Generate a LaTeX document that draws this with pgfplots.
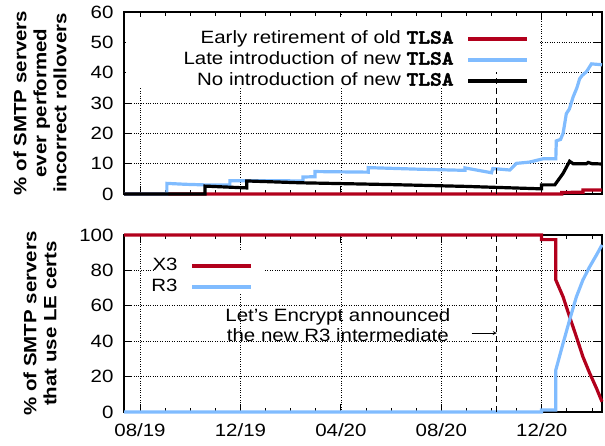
\documentclass[border=0pt]{standalone}
\usepackage{fontspec}
\setmainfont{Liberation Sans}[FakeStretch=1.15]
\newfontfamily\tlsafont{lmmonolt10-bold.otf}[FakeBold=2.5, FakeStretch=1.12]
\usepackage{pgfplots}
\pgfplotsset{compat=1.18}
\definecolor{cred}{RGB}{178,0,28}
\definecolor{cblue}{RGB}{128,188,255}
\newcommand{\tlsa}{{\tlsafont\fontsize{20bp}{20bp}\selectfont TLSA}}
\newcommand{\fs}{\fontsize{17.8bp}{20bp}\selectfont}
\begin{document}
\begin{tikzpicture}
\useasboundingbox (0bp,0bp) rectangle (605bp,446bp);
\pgfplotsset{
  every axis/.append style={
   scale only axis, width=478bp, xmin=-0.637, xmax=18.4,
   axis line style={line width=1.4bp},
   tick align=inside, major tick length=8bp, minor tick length=4bp,
   tick style={black, line width=0.8bp},
   grid=major, grid style={dotted, black, line width=0.6bp},
   xtick={0,4,8,12,16}, minor xtick={1,2,3,5,6,7,9,10,11,13,14,15,17,18},
   font=\fs, tick label style={font=\fs}, /pgf/number format/assume math mode=true,
   clip=false,
   legend style={draw=none, fill=none, inner sep=0pt,
     nodes={inner sep=0pt, text height=13bp, text depth=4bp},
     row sep=4bp, column sep=13bp},
   legend plot pos=right, legend cell align=right,
   legend image code/.code={\draw[#1] (0bp,0bp) -- (59bp,0bp);},
   every axis y label/.style={at={(axis description cs:-0.1757,0.5)}, rotate=90, anchor=center, align=center, font=\fs\bfseries},
   yticklabel style={xshift=-7bp}, xticklabel style={yshift=-8bp},
  }
}
\begin{axis}[at={(124bp,252bp)}, anchor=south west, height=182bp,
  ymin=0, ymax=60, ytick={0,10,...,60}, xticklabels={},
  ylabel={\% of SMTP servers\\ever performed\\incorrect rollovers},
  legend style={at={(0.8473,0.899)}, anchor=north east}]
\fill[white] (axis cs:-0.55,34.9) rectangle (axis cs:15.92,58.4);
\addplot[cred, line width=3.2bp] coordinates {(-0.637,0)(16.8,0)(16.8,0.5)(17.64,0.6)(17.64,1.3)(18.40,1.3)};
\addlegendentry{Early retirement of old \tlsa}
\addplot[cblue, line width=3.2bp] coordinates {(-0.637,0)(1.07,0)(1.07,3.5)(1.8,3.2)(2.59,3.0)(3.58,3.0)(3.58,4.4)(5.0,4.4)(6.49,4.3)(6.49,5.6)(6.97,5.7)(6.97,7.4)(8.0,7.3)(9.09,7.2)(9.09,8.7)(11.0,8.2)(12.94,7.8)(12.94,8.6)(14.0,7.0)(14.05,8.4)(14.73,7.9)(14.99,10.1)(15.5,10.5)(16.05,11.6)(16.56,11.6)(16.58,17.5)(16.75,18)(16.85,20)(16.98,26.5)(17.1,28)(17.25,32)(17.4,35)(17.51,38)(17.6,39)(17.78,40.3)(17.98,42.9)(18.40,42.6)};
\addlegendentry{Late introduction of new \tlsa}
\addplot[black, line width=3.2bp] coordinates {(-0.637,0)(2.59,0)(2.59,2.6)(4.25,2.0)(4.25,4.3)(6.37,3.7)(10,3.1)(13,2.5)(15.99,1.7)(15.99,3.0)(16.52,3.0)(16.85,6.8)(17.11,10.8)(17.25,10.0)(17.78,10.0)(17.85,10.4)(18.0,10.0)(18.40,9.9)};
\addlegendentry{No introduction of new \tlsa}
\draw[black, line width=1bp, dash pattern=on 6bp off 4bp] (axis cs:14.21,0) -- (axis cs:14.21,40.2);
\end{axis}
\begin{axis}[at={(124bp,34bp)}, anchor=south west, height=177bp,
  ymin=0, ymax=100, ytick={0,20,...,100},
  xticklabels={08/19,12/19,04/20,08/20,12/20},
  ylabel={\% of SMTP servers\\that use LE certs},
  legend style={at={(0.2699,0.8737)}, anchor=north east}]
\fill[white] (axis cs:0.6,67.2) rectangle (axis cs:4.97,91.5);
\addplot[cred, line width=3.2bp] coordinates {(-0.637,100)(15.99,100)(15.99,97.4)(16.56,97.4)(16.56,74.6)(16.85,65.1)(17.11,53.8)(17.38,42.5)(17.64,31.2)(17.91,21.9)(18.18,13.4)(18.40,5.8)};
\addlegendentry{X3}
\addplot[cblue, line width=3.2bp] coordinates {(-0.637,0)(15.99,0)(15.99,1.1)(16.56,1.1)(16.56,23.7)(16.85,38.8)(17.11,52)(17.38,65.1)(17.64,74.6)(17.91,82.1)(18.18,88.7)(18.40,94.4)};
\addlegendentry{R3}
\draw[black, line width=1bp, dash pattern=on 6bp off 4bp] (axis cs:14.21,0) -- (axis cs:14.21,100);
\draw[-stealth, black, line width=0.8bp] (axis cs:13.21,44.6) -- (axis cs:14.21,44.6);
\node[align=center, font=\fs] at (axis cs:7.88,49.2) {Let’s Encrypt announced\\the new R3 intermediate};
\end{axis}
\end{tikzpicture}
\end{document}
